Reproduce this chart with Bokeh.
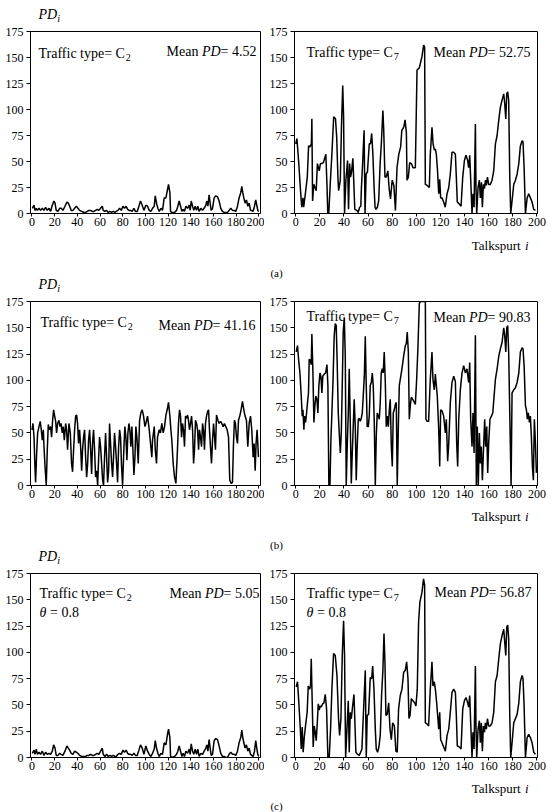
from bokeh.plotting import figure
from bokeh.models import Range1d, FixedTicker, Label
from bokeh.layouts import column, row
from bokeh.embed import file_html
from bokeh.resources import INLINE

FONT = "Liberation Serif"

# ---------------- data (talkspurt index, PD value) ----------------
a_c2_t = [0.3,1.8,2.6,3.8,4.8,6.2,7.6,9.1,10.6,12.0,13.5,15.0,16.4,17.9,19.4,20.3,21.4,22.9,24.4,25.8,27.3,29.1,30.8,32.0,33.2,34.6,36.1,37.6,39.1,40.5,42.0,43.8,45.8,47.3,48.8,50.2,51.7,53.2,54.6,56.1,57.6,59.0,60.5,62.0,62.8,64.3,65.8,67.3,68.7,70.2,71.7,73.1,74.3,75.8,77.2,78.7,80.2,81.6,83.1,84.3,85.5,87.0,88.4,89.9,91.3,92.8,94.3,95.7,97.2,98.7,
          100.4,101.9,103.4,104.8,106.3,107.8,108.7,109.8,111.0,112.2,113.7,115.1,116.6,118.1,119.5,120.4,121.6,122.2,123.3,124.5,125.7,127.5,128.6,129.8,131.0,132.2,133.3,134.5,135.7,137.2,138.7,139.5,140.4,141.6,142.7,143.9,145.1,146.2,147.4,148.9,150.4,151.8,153.3,154.2,155.1,156.2,157.1,158.0,159.2,160.6,162.1,163.6,165.0,166.5,167.9,169.4,170.9,172.3,173.8,175.3,176.8,178.2,179.7,181.2,182.6,184.1,185.0,185.9,186.8,187.9,189.1,190.3,191.5,192.7,193.8,195.0,196.2,197.3,198.2,199.1,200.0]
a_c2_pd = [5,8,3,5,3,5,3,5,3,6,3,5,2,8,12,10,3,2,5,5,3,7,11,10,7,3,3,5,7,5,3,2,1,1,2,3,3,2,2,3,4,3,5,7,3,2,3,1,2,1,2,1,2,3,5,3,7,5,7,4,3,3,2,5,2,2,7,12,8,3,
           8,7,3,2,5,7,17,10,5,2,5,3,15,15,23,28,20,2,1,1,1,3,7,12,7,2,4,2,7,5,8,3,12,7,3,7,3,7,2,5,3,5,8,12,7,18,10,3,5,15,17,16,12,5,2,1,1,1,3,5,3,3,2,7,15,20,26,20,15,10,13,7,10,3,3,2,7,13,8,3,2]

a_c7_t = [0,1,2.5,4,5,6,6.6,8,9.6,10.7,11.8,13,13.4,14,15,16,17,18,19.5,20.5,21.6,23,25,26,26.6,27.4,28.8,30,31.5,33,34,35,35.6,37,38,39,39.7,40.5,41.6,43,43.8,44.7,45.5,46.3,47.4,48,49,50.7,51.8,53,54,54.5,55.6,56.7,57.5,58.4,59.5,61,62,63,64,65,65.8,66.6,67.7,68.8,70,71,72.3,73,74,75,76.4,77.5,78.6,80,81.4,82.7,84,85.5,87,88,89.6,90.7,91.8,92.3,93.4,94.5,95.9,97.3,98.4,
          99.2,100.6,102.5,104.7,106.1,106.9,107.5,109,110.8,111.6,113,113.9,115,115.8,116.6,117.5,118.6,119.4,120.2,121.3,122.7,124,125.5,126.9,128.2,129.6,131,132.4,133.2,134,135.7,137.1,138.5,139.9,141.2,142.6,143.4,144.3,145.1,146.2,147,147.9,149,149.5,150.1,151.2,152.3,153.1,154,154.8,155.6,156.5,157.3,158.1,159,160,161.4,162.8,164.2,165.6,167,168.4,169.7,171.1,172.5,173.3,174.2,175,175.8,176.6,177.5,178.3,179.4,180.8,182.2,183.6,185,186.3,187.7,188.5,189.4,190.5,191.9,193.2,194.6,196,197.4,198.8]
a_c7_pd = [67,72,49,22,6,15,6,19,35,65,64,67,91,12,28,25,22,48,41,48,48,49,57,25,0,0,32,57,93,91,73,35,22,32,86,123,93,0,32,51,4,48,35,40,53,35,4,3,1,6,7,25,51,80,0,38,40,67,67,77,57,25,6,4,6,12,48,67,99,80,35,35,41,24,14,32,27,3,44,57,64,80,83,90,77,32,35,49,48,44,44,
           44,138,140,151,162,160,28,27,25,57,83,67,61,62,57,43,19,33,15,15,11,6,19,25,38,59,59,57,35,11,9,7,35,51,56,51,44,56,33,0,19,6,86,25,0,25,32,15,30,6,28,24,32,27,35,28,28,32,41,67,75,90,102,109,115,106,91,115,117,109,35,0,12,28,32,38,48,65,70,69,44,0,15,19,15,11,4,3]

b_c2_t = [0,0.9,1.8,2.6,3.2,4.1,5.0,6.2,7.3,8.2,9.1,10.0,10.6,11.5,12.6,13.5,14.4,15.3,16.4,17.3,18.2,19.1,20.0,20.9,21.7,22.6,23.8,24.7,25.6,26.7,27.6,28.5,29.7,30.5,31.4,32.6,33.8,34.9,35.8,36.7,37.6,38.5,39.4,40.2,41.1,42.0,42.9,43.8,44.6,45.5,46.4,47.3,48.2,49.1,49.9,50.8,51.7,52.6,53.4,54.3,55.2,56.1,57.0,57.9,58.8,59.6,60.5,61.4,62.3,63.1,64.0,64.9,65.8,66.7,67.6,68.4,69.3,70.2,71.1,71.9,72.8,73.7,74.6,75.5,76.4,77.3,78.1,79.0,79.9,81.1,81.9,82.8,83.7,84.6,85.5,86.3,87.2,88.1,89.0,89.9,90.8,91.6,92.5,93.7,94.9,96.0,97.2,98.4,99.6,
          100.4,101.9,103.4,104.8,105.7,106.3,107.8,108.7,109.8,110.7,112.2,113.3,114.5,115.7,116.9,118.1,119.2,120.4,121.6,122.5,123.3,124.5,125.7,126.9,128.0,129.2,130.1,131.0,131.9,132.7,133.6,134.5,135.4,136.3,137.2,138.0,138.9,139.8,140.7,141.6,142.5,143.3,144.2,145.1,146.0,146.9,147.7,148.6,149.5,150.4,151.2,152.1,153.0,153.9,154.8,155.7,156.5,157.4,158.3,159.2,160.1,161.0,161.8,162.7,163.9,165.0,166.2,167.4,168.6,169.7,170.9,172.1,173.3,174.4,175.6,176.8,177.6,178.5,179.4,180.3,181.2,182.1,183.2,184.4,185.6,186.8,187.9,189.1,190.3,191.5,192.7,193.8,195.0,195.9,196.8,197.6,198.5,199.7]
b_c2_pd = [53,59,46,18,3,30,50,56,61,53,43,53,37,18,0,34,58,53,56,46,62,72,66,61,50,59,62,56,59,50,56,43,59,53,34,59,50,21,13,34,53,66,67,59,40,53,37,14,34,46,53,27,8,21,43,53,34,11,40,53,34,8,14,0,27,46,37,21,5,0,27,50,27,3,14,59,40,21,8,27,50,37,21,3,37,53,46,18,0,37,56,46,24,50,59,53,37,56,34,10,27,56,46,21,62,69,72,66,56,
           59,66,53,37,27,43,56,34,21,46,53,50,59,50,56,67,72,79,66,53,43,21,8,2,27,59,72,66,46,59,53,37,66,64,67,62,53,59,66,53,21,34,62,59,53,34,53,46,37,59,53,34,59,66,70,72,53,37,21,43,59,46,34,67,62,59,61,59,56,59,56,53,46,5,2,3,37,62,59,46,40,62,66,72,80,72,66,62,37,59,66,53,27,40,14,40,53,27]

b_c7_t = [0.4,1.5,2.4,3.5,4.6,5.4,6.0,6.8,7.3,8.2,9.0,9.8,10.6,11.2,12.0,12.9,13.4,14.2,15.1,15.9,16.7,17.6,18.4,19.2,20.1,20.9,21.7,22.5,23.6,24.8,25.9,26.7,27.5,28.4,29.2,30.0,30.9,31.9,32.8,33.6,34.4,35.3,36.1,37.0,37.8,38.6,39.4,40.3,41.1,41.9,42.7,43.6,44.4,45.2,46.1,46.9,47.7,48.5,49.4,50.2,51.0,51.9,52.7,53.5,54.4,55.2,56.0,56.9,57.7,58.5,59.3,60.2,61.0,61.8,62.7,63.5,64.3,65.1,66.0,66.8,67.6,68.5,69.3,70.1,70.9,71.8,72.6,73.4,74.3,75.1,75.9,76.8,77.6,78.4,79.3,80.1,80.9,81.7,82.6,83.4,84.2,85.1,85.9,86.7,88.1,89.5,90.9,91.7,92.5,93.4,94.2,95.0,95.9,97.0,98.0,99.2,
          100.3,101.4,102.5,103.3,107.5,108.0,108.9,110.2,111.6,113.0,113.8,114.9,115.8,116.6,117.4,118.6,119.4,120.2,121.3,122.7,124.1,124.9,126.0,126.9,128.2,129.6,131.0,132.4,133.5,134.3,135.2,136.5,137.9,139.3,140.7,142.0,143.4,144.3,145.1,146.2,147.0,147.9,149.0,149.8,150.6,151.4,152.3,153.1,153.9,154.8,155.6,156.7,157.5,158.4,159.2,160.0,161.1,162.3,163.4,164.5,165.6,167.0,168.4,169.7,171.1,172.5,173.3,174.2,175.0,175.8,176.6,177.5,178.6,179.4,180.8,182.2,183.6,185.0,186.3,187.7,188.5,189.4,190.5,191.3,192.1,192.9,193.8,194.6,195.4,196.3,197.1,197.9,198.8,199.6]
b_c7_pd = [127,133,120,107,85,66,72,53,66,60,69,79,88,120,119,115,144,111,60,76,85,82,69,95,107,104,88,104,106,107,115,95,0,0,44,69,98,142,154,152,117,69,50,31,50,95,146,160,123,0,37,69,111,63,2,31,56,82,56,5,37,63,64,61,64,69,85,104,142,95,56,56,66,95,98,107,95,63,0,47,69,66,63,79,107,111,107,127,98,56,66,56,72,82,37,18,69,72,77,79,0,56,95,101,111,123,133,135,146,127,63,76,84,82,80,77,
           101,133,173,175,175,63,61,61,101,127,101,91,106,95,85,53,18,72,71,66,50,63,23,40,79,98,104,99,40,18,63,91,107,114,107,111,98,117,63,37,69,31,143,0,56,0,50,21,37,5,31,63,37,56,12,40,63,66,69,85,101,111,123,130,136,150,143,127,150,152,127,69,0,88,91,93,98,107,127,131,130,114,76,72,63,69,60,66,47,18,5,63,40,12]

c_c2_t = [0.3,1.8,2.6,3.8,4.8,6.2,7.6,9.1,10.6,12.0,13.5,15.0,16.4,17.9,19.1,20.3,21.4,22.9,24.4,25.8,27.3,29.1,30.8,32.0,33.2,34.6,36.1,37.6,39.1,40.5,42.0,43.8,45.8,47.3,48.8,50.2,51.7,53.2,54.6,56.1,57.6,59.0,60.5,62.0,62.8,64.3,65.8,67.3,68.7,70.2,71.7,73.1,74.3,75.8,77.2,78.7,80.2,81.6,83.1,84.3,85.5,87.0,88.4,89.9,91.3,92.8,94.3,95.7,97.2,98.7,
          100.4,101.9,103.4,104.8,106.3,107.8,108.7,109.8,111.0,112.2,113.7,115.1,116.6,118.1,119.5,120.4,121.6,122.2,123.9,125.7,127.5,128.6,129.8,131.0,132.2,133.3,134.5,135.7,137.2,138.7,139.5,140.4,141.6,142.7,143.9,145.1,146.2,147.4,148.9,150.4,151.8,153.3,154.2,155.1,156.2,157.1,158.0,159.2,160.6,162.1,163.6,165.0,166.5,167.9,169.4,170.9,172.3,173.8,175.3,176.8,178.2,179.7,181.2,182.6,184.1,185.0,185.9,186.8,187.9,189.1,190.3,191.5,192.7,193.8,195.0,196.2,197.3,198.2,199.1,200.0]
c_c2_pd = [4,7,3,8,3,5,3,6,2,5,3,4,3,6,12,9,2,2,4,3,2,6,11,9,7,4,3,6,5,4,2,1,1,1,2,2,3,2,2,3,4,3,6,9,3,1,3,1,2,1,2,1,1,3,4,3,7,5,7,4,3,3,2,4,2,2,7,12,9,3,
           11,6,3,1,4,8,16,9,4,1,4,3,14,12,22,27,19,1,0,1,3,6,11,6,1,4,1,6,4,8,3,13,6,3,8,3,8,1,4,3,6,9,12,6,17,9,2,3,16,18,17,11,4,1,1,0,0,3,5,3,3,2,6,14,19,26,19,14,9,12,6,9,3,2,1,6,16,9,3,1]

c_c7_t = [0.4,1.5,2.6,3.7,4.6,5.4,6.2,7.1,8.4,9.5,10.4,11.5,12.3,12.9,13.7,14.5,15.4,16.2,17.0,17.9,18.7,19.5,20.3,21.2,22.3,23.4,24.5,25.6,26.7,27.8,28.9,30.0,31.4,32.8,34.2,35.5,36.4,37.5,38.6,39.7,40.5,41.4,42.5,43.6,44.4,45.2,46.1,47.2,48.3,49.1,49.9,51.3,52.7,53.8,54.9,55.7,56.8,57.7,58.5,59.3,60.4,61.8,63.0,63.8,64.9,66.0,66.8,67.9,69.0,70.1,71.2,72.3,73.2,74.0,74.8,75.9,77.1,78.2,79.3,80.4,81.8,83.1,84.2,85.3,86.7,88.1,89.5,90.9,92.0,93.1,93.9,94.8,95.9,97.2,98.6,99.7,100.8,101.9,103.0,
          104.7,106.0,106.9,107.5,108.9,110.2,111.6,113.0,113.8,114.9,115.8,116.9,117.7,118.6,119.4,120.2,121.3,122.7,124.1,125.5,126.9,128.2,129.6,131.0,132.4,133.2,134.0,135.7,137.1,138.5,139.9,141.2,142.6,143.4,144.3,145.1,146.2,147.0,147.9,149.0,149.5,150.1,151.2,152.3,153.1,153.9,154.8,155.6,156.5,157.3,158.1,159.0,160.0,161.4,162.8,164.2,165.6,167.0,168.4,169.7,171.1,172.5,173.3,174.2,175.0,175.8,176.6,177.5,178.3,179.4,180.8,182.2,183.6,185.0,186.3,187.7,188.5,189.4,190.5,191.9,193.2,194.6,196.0,197.4,198.8]
c_c7_pd = [67,72,52,30,8,29,5,19,33,43,68,65,68,94,52,10,30,24,16,33,51,45,49,48,51,52,60,46,0,0,27,65,99,97,78,37,21,37,97,130,97,0,27,54,5,43,37,49,60,33,5,3,2,5,8,30,59,83,0,40,41,76,75,87,65,27,8,5,10,21,59,83,118,91,40,41,52,27,17,33,30,6,5,46,59,65,81,83,91,75,37,40,56,54,52,49,65,129,148,
           157,170,164,33,32,30,65,91,68,72,65,52,40,27,43,17,14,10,6,21,27,43,62,65,62,40,11,10,8,46,54,57,52,48,59,33,0,24,8,87,30,0,27,35,14,33,6,30,24,33,27,37,30,30,33,43,72,78,94,108,116,122,110,97,124,126,113,40,0,14,33,37,41,52,72,78,75,49,0,19,22,19,14,5,3]

y_ticks = [0, 25, 50, 75, 100, 125, 150, 175]
x_ticks = [0, 20, 40, 60, 80, 100, 120, 140, 160, 180, 200]

# ---------------- text helpers ----------------
W_REG = {' ': 250, '(': 333, ')': 333, '.': 250, '=': 564, 'C': 667, 'D': 722, 'M': 889,
         'P': 556, 'T': 611, 'a': 444, 'b': 500, 'c': 444, 'e': 444, 'f': 333, 'i': 278,
         'k': 500, 'l': 278, 'n': 500, 'p': 500, 'r': 333, 's': 389, 't': 278, 'u': 500,
         'y': 500, '\u03b8': 500}
W_IT = {'P': 611, 'D': 722, 'i': 278, '\u03b8': 500}


def width(s, italic, size):
    tot = 0
    for ch in s:
        if ch.isdigit():
            tot += 500
        elif italic and ch in W_IT:
            tot += W_IT[ch]
        else:
            tot += W_REG.get(ch, 500)
    return tot / 1000.0 * size


class Canvas:
    """A figure plus the mapping from pixel offsets (from its frame's top-left) to data."""
    def __init__(self, p, fw, fh, xr, ymax):
        self.p, self.fw, self.fh, self.xr, self.ymax = p, fw, fh, xr, ymax

    def put(self, px, py, pieces, size=14, align="left"):
        ws = []
        for txt, it, sub in pieces:
            sz = size * 0.72 if sub else size
            ws.append(width(txt, it, sz))
        total = sum(ws)
        if align == "right":
            x0 = px - total
        elif align == "center":
            x0 = px - total / 2.0
        else:
            x0 = px
        cur = x0
        for (txt, it, sub), w in zip(pieces, ws):
            sz = size * 0.72 if sub else size
            lead = len(txt) - len(txt.lstrip(" "))
            shift = width(" " * lead, it, sz)
            body = txt.strip(" ")
            yy = py + (size * 0.28 if sub else 0)
            xd = self.xr[0] + (cur + shift) * (self.xr[1] - self.xr[0]) / self.fw
            yd = self.ymax - yy * self.ymax / self.fh
            self.p.add_layout(Label(x=xd, y=yd, text=body, text_font=FONT,
                                    text_font_size=f"{sz:.1f}px",
                                    text_font_style="italic" if it else "normal",
                                    text_align="left", text_baseline="alphabetic",
                                    text_color="black"))
            cur += w


def make_panel(t, pd, left_side, fh):
    if left_side:
        fw, bl, br, xr = 230, 30, 4, (-1.3, 201.5)
    else:
        fw, bl, br, xr = 243, 30, 15, (-1.0, 200.5)
    p = figure(frame_width=fw, frame_height=fh, min_border_left=bl, min_border_right=br,
               min_border_top=7, min_border_bottom=19,
               x_range=Range1d(*xr), y_range=Range1d(0, 175),
               toolbar_location=None, output_backend="svg", title=None)
    p.line(t, pd, line_color="black", line_width=1.5)
    p.grid.visible = False
    p.outline_line_color = "black"
    p.outline_line_alpha = 1.0
    p.outline_line_width = 1
    p.background_fill_color = "white"
    p.border_fill_color = "white"
    p.xaxis.ticker = FixedTicker(ticks=x_ticks)
    p.yaxis.ticker = FixedTicker(ticks=y_ticks)
    for ax in (p.xaxis[0], p.yaxis[0]):
        ax.axis_line_color = "black"
        ax.major_tick_line_color = "black"
        ax.minor_tick_line_color = None
        ax.major_tick_in = 0
        ax.major_tick_out = 4
        ax.major_label_text_font = FONT
        ax.major_label_text_font_size = "12px"
        ax.major_label_text_color = "black"
    p.xaxis.major_tick_out = 3
    p.xaxis.major_label_standoff = 1
    p.yaxis.major_label_standoff = 3
    return Canvas(p, fw, fh, xr, 175.0)


def make_strip(h):
    s = figure(frame_width=552, frame_height=h, min_border=0,
               x_range=Range1d(0, 552), y_range=Range1d(0, h),
               toolbar_location=None, output_backend="svg", title=None,
               x_axis_location=None, y_axis_location=None)
    s.grid.visible = False
    s.xgrid.grid_line_color = None
    s.ygrid.grid_line_color = None
    s.outline_line_color = None
    s.background_fill_color = "white"
    s.border_fill_color = "white"
    return Canvas(s, 552, h, (0, 552), float(h))


def traffic(n):
    return [("Traffic type= C", False, False), (n, False, True)]


def mean(v):
    return [("Mean ", False, False), ("PD", True, False), ("= " + v, False, False)]


THETA = [("\u03b8", True, False), (" = 0.8", False, False)]
PDI = [("PD", True, False), ("i", True, True)]
TALK = [("Talkspurt ", False, False), ("i", True, False)]

# strips with the texts outside the plot frames (page coordinates)
s0 = make_strip(24)
s0.put(38, 14, PDI)
s1 = make_strip(62)
s1.put(528, 13, TALK, size=13, align="right")
s1.put(276, 40, [("(a)", False, False)], size=11, align="center")
s1.put(38, 52, PDI)
s2 = make_strip(62)
s2.put(528, 12, TALK, size=13, align="right")
s2.put(276, 40, [("(b)", False, False)], size=11, align="center")
s2.put(38, 52, PDI)
s3 = make_strip(36)
s3.put(528, 12, TALK, size=13, align="right")
s3.put(276, 29, [("(c)", False, False)], size=11, align="center")

# row (a)
al = make_panel(a_c2_t, a_c2_pd, True, 182)
ar = make_panel(a_c7_t, a_c7_pd, False, 182)
al.put(8, 22, traffic("2"))
al.put(226, 20, mean("4.52"), align="right")
ar.put(12, 21, traffic("7"))
ar.put(236, 21, mean("52.75"), align="right")

# row (b)
bl_ = make_panel(b_c2_t, b_c2_pd, True, 184)
br_ = make_panel(b_c7_t, b_c7_pd, False, 184)
bl_.put(10, 21, traffic("2"))
bl_.put(225, 24, mean("41.16"), align="right")
br_.put(12, 15, traffic("7"))
br_.put(236, 16, mean("90.83"), align="right")

# row (c)
cl = make_panel(c_c2_t, c_c2_pd, True, 184)
cr = make_panel(c_c7_t, c_c7_pd, False, 184)
cl.put(9, 20, traffic("2"))
cl.put(229, 20, mean("5.05"), align="right")
cl.put(9, 39, THETA)
cr.put(12, 20, traffic("7"))
cr.put(237, 19, mean("56.87"), align="right")
cr.put(12, 39, THETA)

layout = column(s0.p, row(al.p, ar.p, spacing=0), s1.p,
                row(bl_.p, br_.p, spacing=0), s2.p,
                row(cl.p, cr.p, spacing=0), s3.p, spacing=0)

open("out.html", "w").write(file_html(layout, INLINE))
